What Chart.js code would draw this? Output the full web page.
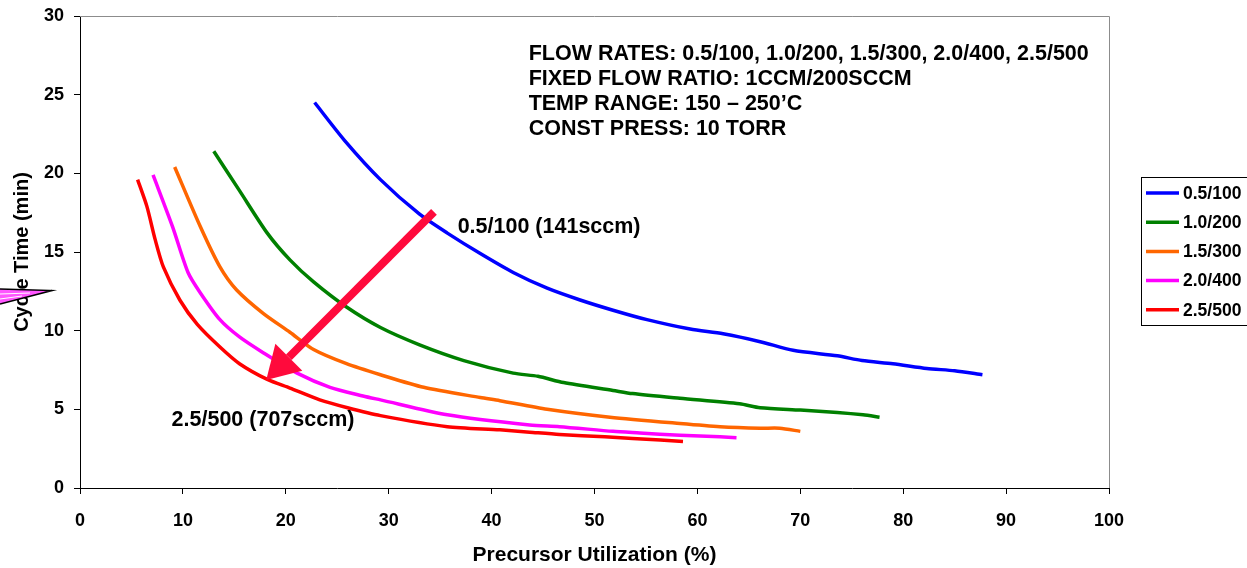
<!DOCTYPE html>
<html>
<head>
<meta charset="utf-8">
<script src="https://cdn.jsdelivr.net/npm/chart.js@4/dist/chart.umd.min.js"></script>
<style>
  html, body { margin: 0; padding: 0; background: #fff; }
  #wrap { width: 1247px; height: 568px; position: relative; }
</style>
</head>
<body>
<div id="wrap"><canvas id="cycleChart" width="1247" height="568"></canvas></div>
<script>
// series: precursor utilization (%) vs cycle time (min)
const seriesNames = ['0.5/100', '1.0/200', '1.5/300', '2.0/400', '2.5/500'];

const util05  = [22.8, 25.7, 29.2, 33.0, 35.7, 38.9, 42.1, 45.4, 48.6, 51.8, 55.1, 59.3, 62.5, 66.1, 69.3, 73.6, 76.0, 79.0, 82.3, 85.0, 87.7];
const cycle05 = [24.5, 22.1, 19.6, 17.4, 16.2, 14.9, 13.7, 12.7, 11.95, 11.3, 10.7, 10.1, 9.8, 9.3, 8.75, 8.4, 8.1, 7.9, 7.6, 7.45, 7.2];

const util10  = [13.0, 15.5, 18.2, 20.4, 22.7, 25.9, 29.2, 33.0, 37.3, 42.1, 44.5, 47.0, 51.8, 53.7, 58.3, 64.1, 66.1, 70.0, 73.6, 76.1, 77.7];
const cycle10 = [21.4, 18.9, 16.2, 14.5, 13.1, 11.5, 10.2, 9.1, 8.1, 7.3, 7.1, 6.7, 6.2, 6.0, 5.7, 5.35, 5.1, 4.95, 4.8, 4.65, 4.5];

const util15  = [9.2, 11.7, 13.6, 15.2, 17.8, 20.4, 22.7, 25.9, 29.2, 33.4, 38.9, 40.8, 45.4, 51.5, 58.3, 62.2, 66.1, 68.0, 70.0];
const cycle15 = [20.4, 16.6, 14.05, 12.6, 11.1, 9.9, 8.8, 7.9, 7.2, 6.4, 5.75, 5.55, 5.0, 4.5, 4.1, 3.9, 3.8, 3.8, 3.6];

const util20  = [7.1, 9.0, 10.5, 11.7, 13.6, 15.5, 17.8, 21.1, 24.3, 27.5, 29.2, 35.7, 43.7, 46.6, 51.8, 54.4, 58.3, 62.2, 63.8];
const cycle20 = [19.9, 16.6, 13.7, 12.4, 10.7, 9.6, 8.6, 7.3, 6.4, 5.85, 5.6, 4.65, 4.0, 3.9, 3.6, 3.5, 3.35, 3.25, 3.2];

const util25  = [5.6, 6.5, 7.3, 8.1, 9.7, 11.4, 13.6, 15.5, 18.2, 20.4, 23.3, 26.0, 29.2, 35.7, 40.8, 43.7, 46.6, 51.0, 56.4, 58.6];
const cycle25 = [19.6, 17.9, 15.8, 14.05, 11.95, 10.4, 8.96, 7.9, 6.9, 6.35, 5.6, 5.1, 4.6, 3.9, 3.7, 3.55, 3.4, 3.25, 3.05, 2.95];

const xTicks = [0, 10, 20, 30, 40, 50, 60, 70, 80, 90, 100];
const yTicks = [0, 5, 10, 15, 20, 25, 30];

const infoLines = [
    'FLOW RATES: 0.5/100, 1.0/200, 1.5/300, 2.0/400, 2.5/500',
    'FIXED FLOW RATIO: 1CCM/200SCCM',
    'TEMP RANGE: 150 \u2013 250\u2019C',
    'CONST PRESS: 10 TORR'
];

const lineColors = ['#0000FF', '#008000', '#FF6600', '#FF00FF', '#FF0000'];
const FONT = 'Arial, "Liberation Sans", sans-serif';

function toPoints(xs, ys) {
    return xs.map((x, i) => ({ x: x, y: ys[i] }));
}

const allX = [util05, util10, util15, util20, util25];
const allY = [cycle05, cycle10, cycle15, cycle20, cycle25];

const datasets = seriesNames.map((name, i) => ({
    label: name,
    data: toPoints(allX[i], allY[i]),
    borderColor: lineColors[i],
    backgroundColor: lineColors[i],
    borderWidth: 3.5,
    pointRadius: 0,
    tension: 0.25,
    fill: false
}));

// extra drawing: frame, notes, arrow, legend box
const extras = {
    id: 'extras',
    afterDraw(chart) {
        const ctx = chart.ctx;
        const xs = chart.scales.x, ys = chart.scales.y;
        const area = chart.chartArea;
        ctx.save();

        // grey top/right frame
        ctx.strokeStyle = '#8c8c8c';
        ctx.lineWidth = 1;
        ctx.beginPath();
        ctx.moveTo(area.left, area.top + 0.5);
        ctx.lineTo(area.right + 0.5, area.top + 0.5);
        ctx.lineTo(area.right + 0.5, area.bottom);
        ctx.stroke();

        // notes
        ctx.fillStyle = '#000';
        ctx.font = 'bold 21.5px ' + FONT;
        ctx.textBaseline = 'middle';
        ctx.textAlign = 'left';
        infoLines.forEach((t, i) => {
            ctx.fillText(t, xs.getPixelForValue(43.6), ys.getPixelForValue(27.55) + i * 25);
        });
        ctx.fillText('0.5/100 (141sccm)', xs.getPixelForValue(36.7), ys.getPixelForValue(16.6));
        ctx.fillText('2.5/500 (707sccm)', xs.getPixelForValue(8.9), ys.getPixelForValue(4.3));

        // arrow
        const x1 = xs.getPixelForValue(34.4), y1 = ys.getPixelForValue(17.55);
        const x2 = xs.getPixelForValue(18.1), y2 = ys.getPixelForValue(6.87);
        const ang = Math.atan2(y2 - y1, x2 - x1);
        const headLen = 32, headHalf = 19;
        const bx = x2 - headLen * Math.cos(ang), by = y2 - headLen * Math.sin(ang);
        ctx.strokeStyle = '#FF0A3C';
        ctx.fillStyle = '#FF0A3C';
        ctx.lineWidth = 8;
        ctx.lineCap = 'butt';
        ctx.beginPath();
        ctx.moveTo(x1, y1);
        ctx.lineTo(bx, by);
        ctx.stroke();
        ctx.beginPath();
        ctx.moveTo(x2, y2);
        ctx.lineTo(bx + headHalf * Math.sin(ang), by - headHalf * Math.cos(ang));
        ctx.lineTo(bx - headHalf * Math.sin(ang), by + headHalf * Math.cos(ang));
        ctx.closePath();
        ctx.fill();

        // legend
        ctx.strokeStyle = '#000';
        ctx.lineWidth = 1;
        ctx.strokeRect(1141.5, 177.5, 120, 148);
        ctx.font = 'bold 17.5px ' + FONT;
        chart.data.datasets.forEach((ds, i) => {
            const ly = 193 + i * 29.2;
            ctx.strokeStyle = ds.borderColor;
            ctx.lineWidth = 3.5;
            ctx.beginPath();
            ctx.moveTo(1146, ly);
            ctx.lineTo(1179, ly);
            ctx.stroke();
            ctx.fillStyle = '#000';
            ctx.fillText(ds.label, 1183, ly + 1);
        });

        // stray wedge left of the axis title
        ctx.beginPath();
        ctx.moveTo(0, 289);
        ctx.lineTo(52, 290.5);
        ctx.lineTo(0, 304);
        ctx.closePath();
        ctx.fillStyle = '#FF55FF';
        ctx.fill();
        ctx.strokeStyle = '#fff';
        ctx.lineWidth = 1;
        ctx.beginPath();
        ctx.moveTo(0, 294); ctx.lineTo(30, 293);
        ctx.moveTo(0, 299); ctx.lineTo(22, 296);
        ctx.stroke();
        ctx.strokeStyle = '#000';
        ctx.lineWidth = 1.5;
        ctx.beginPath();
        ctx.moveTo(0, 289);
        ctx.lineTo(52, 290.5);
        ctx.lineTo(0, 304);
        ctx.stroke();

        ctx.restore();
    }
};

new Chart(document.getElementById('cycleChart'), {
    type: 'line',
    data: { datasets: datasets },
    plugins: [extras],
    options: {
        responsive: false,
        animation: false,
        layout: { padding: { left: 0, top: 16, right: 138, bottom: 0 } },
        plugins: {
            legend: { display: false },
            tooltip: { enabled: false }
        },
        scales: {
            x: {
                type: 'linear',
                min: 0, max: 100,
                afterFit(scale) { scale.height = 80; scale.paddingLeft = 0; scale.paddingRight = 0; },
                afterBuildTicks(scale) { scale.ticks = xTicks.map(v => ({ value: v })); },
                ticks: { color: '#000', font: { family: FONT, size: 18, weight: 'bold' }, padding: 16, maxRotation: 0 },
                grid: { drawOnChartArea: false, tickLength: 6, color: '#000' },
                border: { color: '#000', width: 1 },
                title: { display: true, text: 'Precursor Utilization (%)', color: '#000', font: { family: FONT, size: 21, weight: 'bold' }, padding: 0 }
            },
            y: {
                type: 'linear',
                min: 0, max: 30,
                afterFit(scale) { scale.width = 80; scale.paddingTop = 0; scale.paddingBottom = 0; },
                afterBuildTicks(scale) { scale.ticks = yTicks.map(v => ({ value: v })); },
                ticks: { color: '#000', font: { family: FONT, size: 18, weight: 'bold' }, padding: 10 },
                grid: { drawOnChartArea: false, tickLength: 6, color: '#000' },
                border: { color: '#000', width: 1 },
                title: { display: true, text: 'Cycle Time (min)', color: '#000', font: { family: FONT, size: 20, weight: 'bold' }, padding: { top: 10, bottom: 0 } }
            }
        }
    }
});
</script>
</body>
</html>
